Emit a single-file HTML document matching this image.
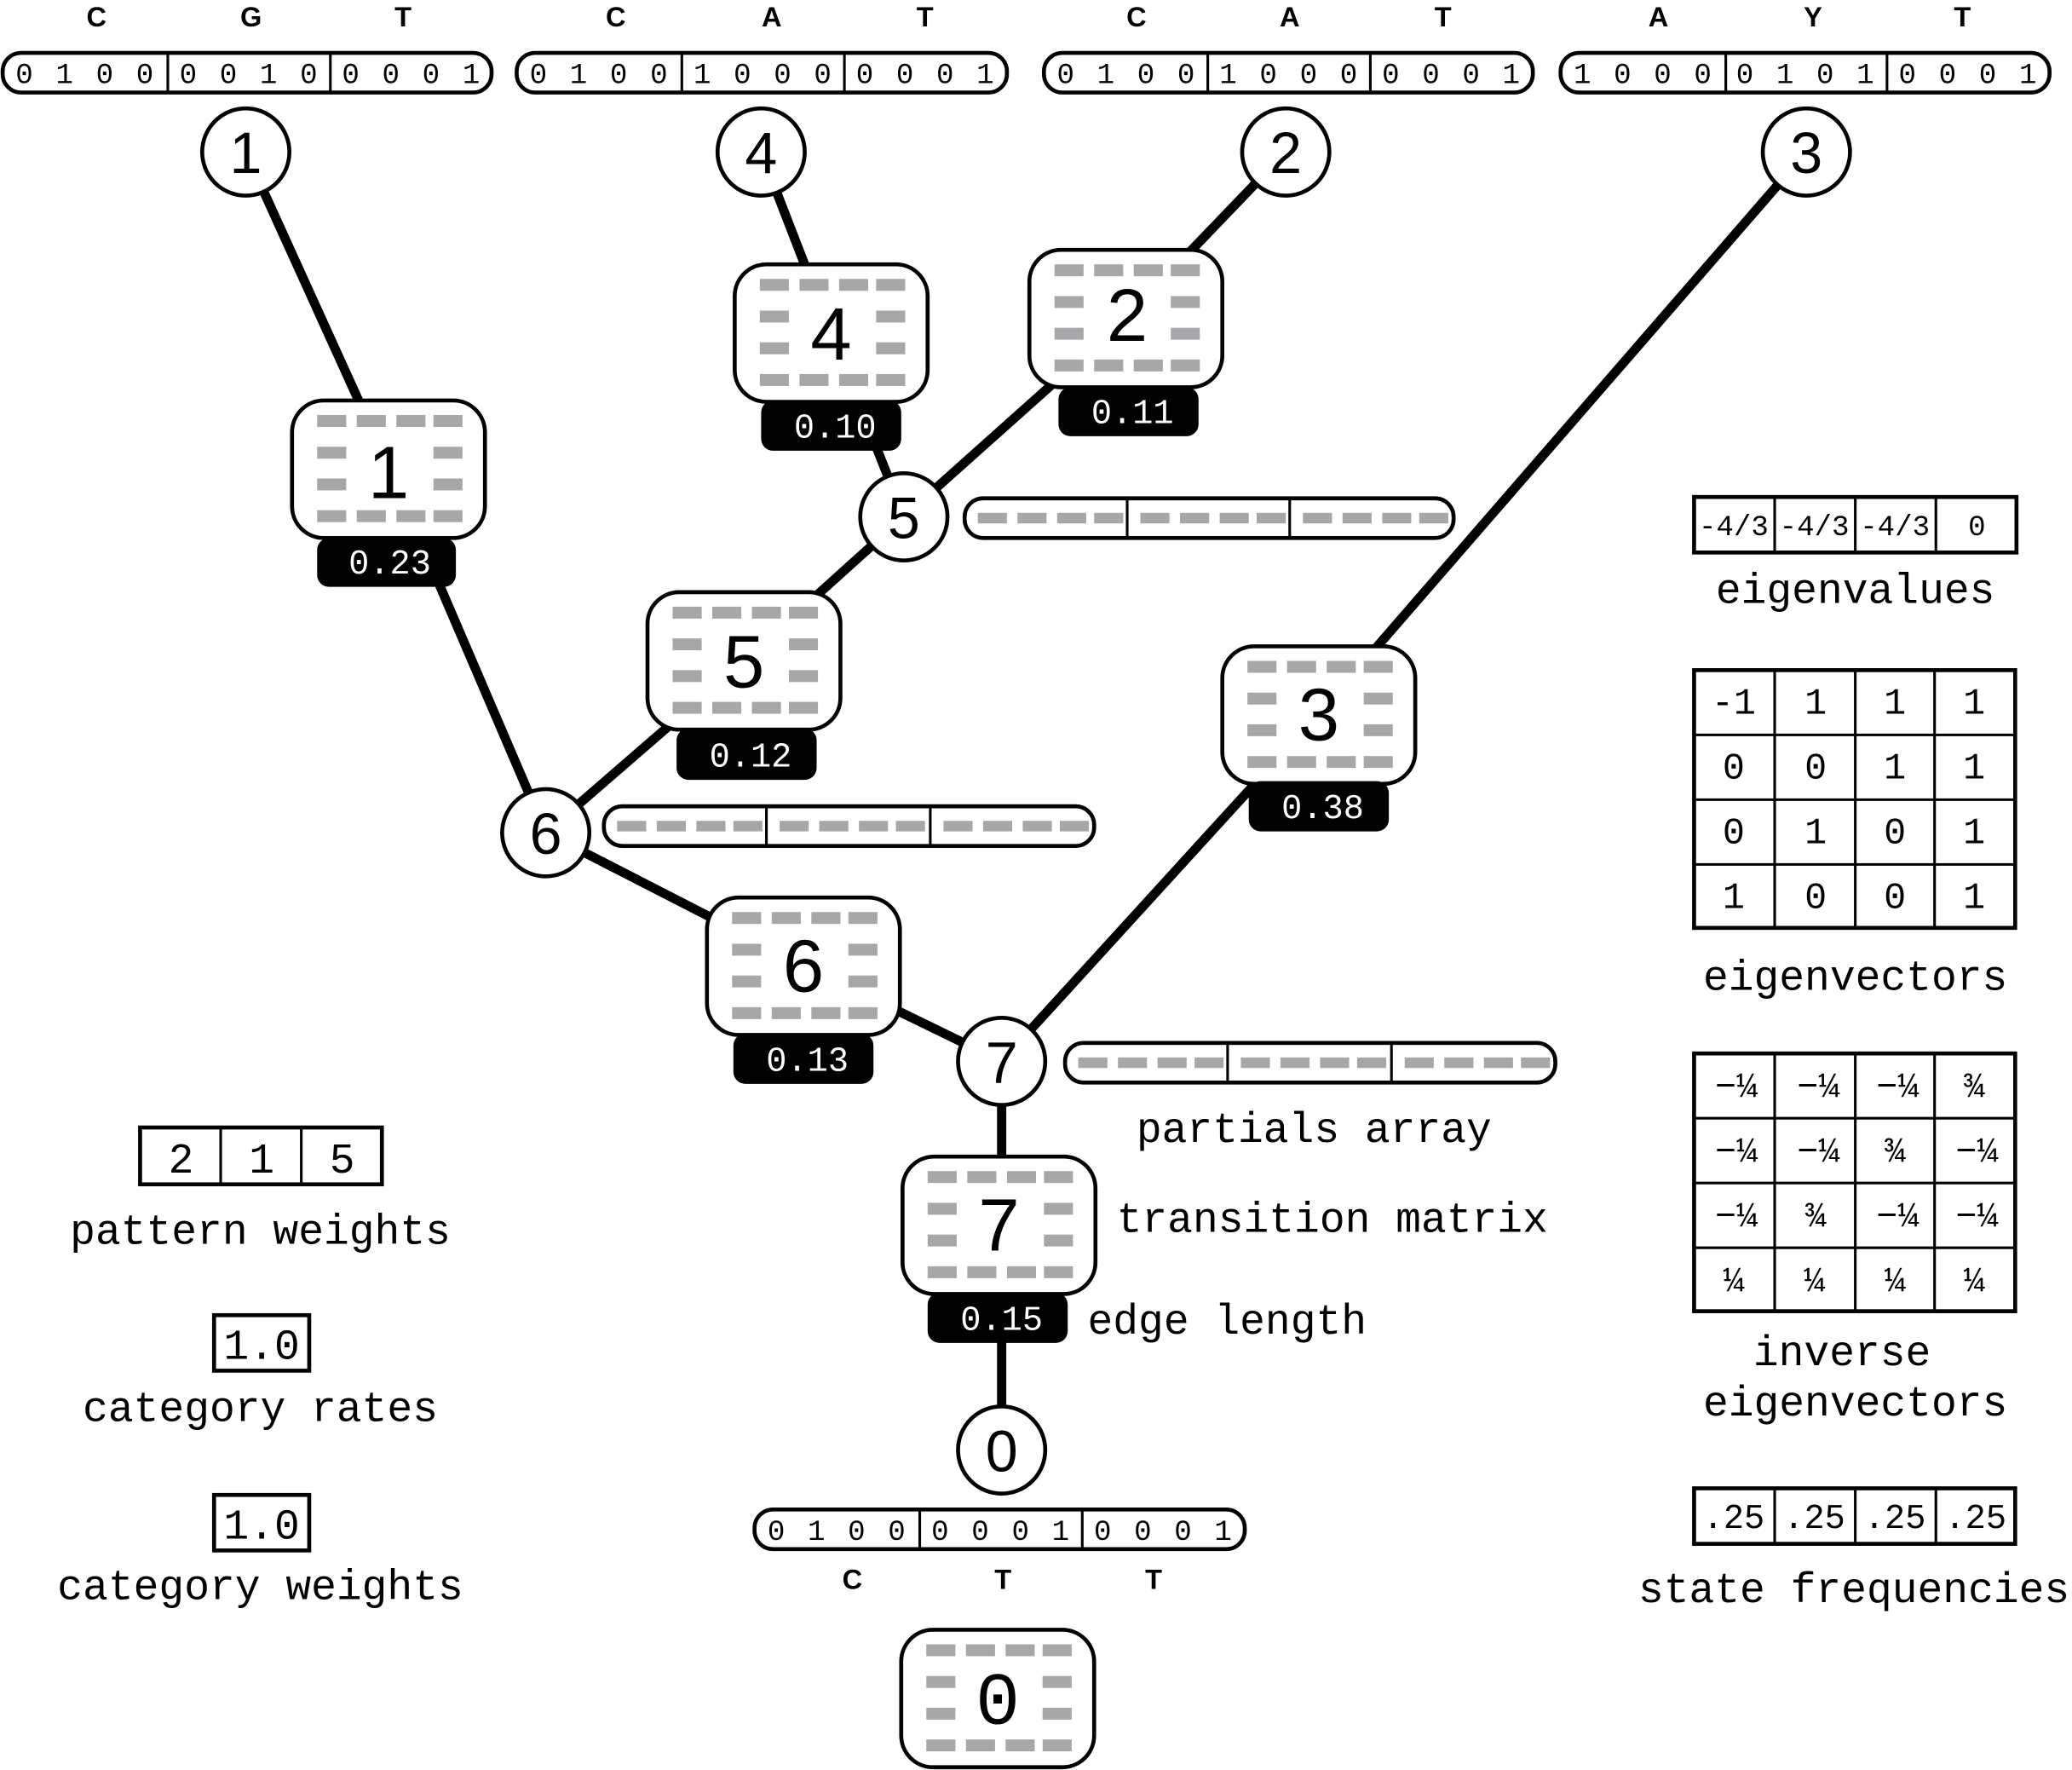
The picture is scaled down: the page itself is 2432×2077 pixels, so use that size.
<!DOCTYPE html>
<html><head><meta charset="utf-8"><style>
html,body{margin:0;padding:0;background:#fff;}
svg{display:block;}
.m{font-family:"Liberation Mono","DejaVu Sans Mono",monospace;}
.s{font-family:"Liberation Sans","DejaVu Sans",sans-serif;}
</style></head><body>
<svg width="2432" height="2077" viewBox="0 0 1568 1339.1" preserveAspectRatio="none" xmlns="http://www.w3.org/2000/svg">
<defs>
<g id="box">
<rect x="0" y="0" width="146" height="104" rx="24" fill="#fff" stroke="#000" stroke-width="3"/>
<g fill="#a7a7a9">
<rect x="19" y="11" width="22" height="9"/><rect x="49" y="11" width="22" height="9"/><rect x="79" y="11" width="22" height="9"/><rect x="107" y="11" width="22" height="9"/>
<rect x="19" y="35" width="22" height="9"/><rect x="107" y="35" width="22" height="9"/>
<rect x="19" y="59" width="22" height="9"/><rect x="107" y="59" width="22" height="9"/>
<rect x="19" y="83" width="22" height="9"/><rect x="49" y="83" width="22" height="9"/><rect x="79" y="83" width="22" height="9"/><rect x="107" y="83" width="22" height="9"/>
</g>
</g>
<g id="pd" fill="#a7a7a9">
<rect x="10" y="11" width="22" height="8"/><rect x="40" y="11" width="22" height="8"/><rect x="70" y="11" width="22" height="8"/><rect x="98" y="11" width="22" height="8"/>
</g>
</defs>

<g stroke="#000" stroke-width="7" fill="none">
<line x1="186" y1="115" x2="295" y2="355"/><line x1="295" y1="355" x2="413" y2="630"/>
<line x1="576" y1="115" x2="629" y2="252"/><line x1="629" y1="252" x2="684" y2="391"/>
<line x1="973" y1="115" x2="852" y2="241"/><line x1="852" y1="241" x2="684" y2="391"/>
<line x1="684" y1="391" x2="563" y2="500"/><line x1="563" y1="500" x2="413" y2="630"/>
<line x1="413" y1="630" x2="608" y2="730"/><line x1="608" y1="730" x2="758" y2="803"/>
<line x1="1367" y1="115" x2="998" y2="540"/><line x1="998" y1="540" x2="758" y2="803"/>
<line x1="758" y1="803" x2="758" y2="1097"/>
</g>

<g stroke="#000" fill="#fff">
<rect x="2" y="40" width="370" height="30" rx="14" stroke-width="3"/>
<rect x="391" y="40" width="371" height="30" rx="14" stroke-width="3"/>
<rect x="790" y="40" width="370" height="30" rx="14" stroke-width="3"/>
<rect x="1181" y="40" width="370" height="30" rx="14" stroke-width="3"/>
<rect x="571" y="1142" width="371" height="30" rx="14" stroke-width="3"/>
</g>
<g stroke="#000" stroke-width="2">
<line x1="127" y1="40" x2="127" y2="70"/><line x1="250" y1="40" x2="250" y2="70"/>
<line x1="516" y1="40" x2="516" y2="70"/><line x1="639" y1="40" x2="639" y2="70"/>
<line x1="914" y1="40" x2="914" y2="70"/><line x1="1037" y1="40" x2="1037" y2="70"/>
<line x1="1306" y1="40" x2="1306" y2="70"/><line x1="1428" y1="40" x2="1428" y2="70"/>
<line x1="696" y1="1142" x2="696" y2="1172"/><line x1="819" y1="1142" x2="819" y2="1172"/>
</g>
<g class="m" font-size="22" text-anchor="middle">
<text x="65" y="63" letter-spacing="2">0 1 0 0</text><text x="189" y="63" letter-spacing="2">0 0 1 0</text><text x="312" y="63" letter-spacing="2">0 0 0 1</text>
<text x="454" y="63" letter-spacing="2">0 1 0 0</text><text x="578" y="63" letter-spacing="2">1 0 0 0</text><text x="701" y="63" letter-spacing="2">0 0 0 1</text>
<text x="853" y="63" letter-spacing="2">0 1 0 0</text><text x="976" y="63" letter-spacing="2">1 0 0 0</text><text x="1099" y="63" letter-spacing="2">0 0 0 1</text>
<text x="1244" y="63" letter-spacing="2">1 0 0 0</text><text x="1367" y="63" letter-spacing="2">0 1 0 1</text><text x="1490" y="63" letter-spacing="2">0 0 0 1</text>
<text x="634" y="1165" letter-spacing="2">0 1 0 0</text><text x="758" y="1165" letter-spacing="2">0 0 0 1</text><text x="881" y="1165" letter-spacing="2">0 0 0 1</text>
</g>
<g class="s" font-size="21" font-weight="600" text-anchor="middle">
<text x="73" y="20">C</text><text x="190" y="20">G</text><text x="305" y="20">T</text>
<text x="466" y="20">C</text><text x="584" y="20">A</text><text x="700" y="20">T</text>
<text x="860" y="20">C</text><text x="976" y="20">A</text><text x="1092" y="20">T</text>
<text x="1255" y="20">A</text><text x="1372" y="20">Y</text><text x="1485" y="20">T</text>
<text x="645" y="1202">C</text><text x="759" y="1202">T</text><text x="873" y="1202">T</text>
</g>

<g fill="#fff" stroke="#000" stroke-width="3">
<rect x="730" y="377" width="370" height="30" rx="14"/>
<rect x="457" y="610" width="371" height="30" rx="14"/>
<rect x="806" y="789" width="371" height="30" rx="14"/>
</g>
<g stroke="#000" stroke-width="2">
<line x1="853" y1="377" x2="853" y2="407"/><line x1="976" y1="377" x2="976" y2="407"/>
<line x1="580" y1="610" x2="580" y2="640"/><line x1="704" y1="610" x2="704" y2="640"/>
<line x1="929" y1="789" x2="929" y2="819"/><line x1="1053" y1="789" x2="1053" y2="819"/>
</g>
<use href="#pd" x="730" y="377"/><use href="#pd" x="853" y="377"/><use href="#pd" x="976" y="377"/>
<use href="#pd" x="457" y="610"/><use href="#pd" x="580" y="610"/><use href="#pd" x="704" y="610"/>
<use href="#pd" x="806" y="789"/><use href="#pd" x="929" y="789"/><use href="#pd" x="1053" y="789"/>

<use href="#box" x="221" y="303"/><use href="#box" x="556" y="200"/><use href="#box" x="779" y="189"/>
<use href="#box" x="490" y="448"/><use href="#box" x="925" y="489"/><use href="#box" x="535" y="679"/>
<use href="#box" x="683" y="875"/><use href="#box" x="682" y="1233"/>
<g class="s" font-size="56" text-anchor="middle">
<text x="294" y="377">1</text><text x="629" y="272">4</text><text x="853" y="258">2</text>
<text x="563" y="520">5</text><text x="998" y="560">3</text><text x="608" y="750">6</text>
<text x="756" y="946">7</text>
</g>
<text class="m" x="755" y="1304" font-size="56" text-anchor="middle">0</text>

<g fill="#000">
<rect x="240" y="407" width="105" height="37" rx="9"/>
<rect x="576" y="303" width="106" height="38" rx="9"/>
<rect x="801" y="293" width="106" height="37" rx="9"/>
<rect x="512" y="551" width="106" height="39" rx="9"/>
<rect x="945" y="591" width="106" height="38" rx="9"/>
<rect x="555" y="782" width="106" height="38" rx="9"/>
<rect x="702" y="978" width="106" height="38" rx="9"/>
</g>
<g class="m" font-size="26" fill="#fff" text-anchor="middle">
<text x="295" y="434">0.23</text><text x="632" y="331">0.10</text><text x="857" y="320">0.11</text>
<text x="568" y="580">0.12</text><text x="1001" y="619">0.38</text><text x="611" y="810">0.13</text>
<text x="758" y="1006">0.15</text>
</g>

<g fill="#fff" stroke="#000" stroke-width="3">
<circle cx="186" cy="115" r="33"/><circle cx="576" cy="115" r="33"/><circle cx="973" cy="115" r="33"/><circle cx="1367" cy="115" r="33"/>
<circle cx="684" cy="391" r="33"/><circle cx="413" cy="630" r="33"/><circle cx="758" cy="803" r="33"/><circle cx="758" cy="1097" r="33"/>
</g>
<g class="s" font-size="44" text-anchor="middle">
<text x="186" y="131">1</text><text x="576" y="131">4</text><text x="973" y="131">2</text><text x="1367" y="131">3</text>
<text x="684" y="407">5</text><text x="413" y="646">6</text><text x="758" y="819">7</text><text x="758" y="1113">0</text>
</g>

<g class="m" font-size="32" text-anchor="start">
<text x="860" y="864">partials array</text>
<text x="845" y="932">transition matrix</text>
<text x="823" y="1009">edge length</text>
</g>

<g fill="#fff" stroke="#000" stroke-width="3">
<rect x="106" y="853" width="183" height="43"/>
<rect x="162" y="995" width="72" height="42"/>
<rect x="162" y="1131" width="72" height="42"/>
</g>
<g stroke="#000" stroke-width="2"><line x1="167" y1="853" x2="167" y2="896"/><line x1="228" y1="853" x2="228" y2="896"/></g>
<g class="m" font-size="32" text-anchor="middle">
<text x="137" y="887">2</text><text x="198" y="887">1</text><text x="259" y="887">5</text>
<text x="198" y="1028">1.0</text><text x="198" y="1164">1.0</text>
<text x="197" y="941">pattern weights</text>
<text x="197" y="1075">category rates</text>
<text x="197" y="1210">category weights</text>
</g>

<g fill="#fff" stroke="#000" stroke-width="3">
<rect x="1282" y="376" width="244" height="42"/>
<rect x="1282" y="507" width="243" height="195"/>
<rect x="1282" y="797" width="243" height="195"/>
<rect x="1282" y="1126" width="243" height="42"/>
</g>
<g stroke="#000" stroke-width="2">
<line x1="1343" y1="376" x2="1343" y2="418"/><line x1="1404" y1="376" x2="1404" y2="418"/><line x1="1465" y1="376" x2="1465" y2="418"/>
<line x1="1343" y1="507" x2="1343" y2="702"/><line x1="1404" y1="507" x2="1404" y2="702"/><line x1="1464" y1="507" x2="1464" y2="702"/>
<line x1="1282" y1="556" x2="1525" y2="556"/><line x1="1282" y1="605" x2="1525" y2="605"/><line x1="1282" y1="654" x2="1525" y2="654"/>
<line x1="1343" y1="797" x2="1343" y2="992"/><line x1="1404" y1="797" x2="1404" y2="992"/><line x1="1464" y1="797" x2="1464" y2="992"/>
<line x1="1282" y1="846" x2="1525" y2="846"/><line x1="1282" y1="895" x2="1525" y2="895"/><line x1="1282" y1="944" x2="1525" y2="944"/>
<line x1="1343" y1="1126" x2="1343" y2="1168"/><line x1="1404" y1="1126" x2="1404" y2="1168"/><line x1="1465" y1="1126" x2="1465" y2="1168"/>
</g>
<g class="m" text-anchor="middle">
<g font-size="22"><text x="1312" y="405">-4/3</text><text x="1373" y="405">-4/3</text><text x="1434" y="405">-4/3</text><text x="1496" y="405">0</text></g>
<g font-size="28">
<text x="1312" y="540">-1</text><text x="1374" y="540">1</text><text x="1434" y="540">1</text><text x="1494" y="540">1</text>
<text x="1312" y="589">0</text><text x="1374" y="589">0</text><text x="1434" y="589">1</text><text x="1494" y="589">1</text>
<text x="1312" y="638">0</text><text x="1374" y="638">1</text><text x="1434" y="638">0</text><text x="1494" y="638">1</text>
<text x="1312" y="687">1</text><text x="1374" y="687">0</text><text x="1434" y="687">0</text><text x="1494" y="687">1</text>
</g>
<g font-size="27">
<text x="1314" y="830">−¼</text><text x="1376" y="830">−¼</text><text x="1436" y="830">−¼</text><text x="1494" y="830">¾</text>
<text x="1314" y="879">−¼</text><text x="1376" y="879">−¼</text><text x="1434" y="879">¾</text><text x="1496" y="879">−¼</text>
<text x="1314" y="928">−¼</text><text x="1374" y="928">¾</text><text x="1436" y="928">−¼</text><text x="1496" y="928">−¼</text>
<text x="1312" y="977">¼</text><text x="1373" y="977">¼</text><text x="1434" y="977">¼</text><text x="1494" y="977">¼</text>
</g>
<g font-size="26"><text x="1312" y="1156">.25</text><text x="1373" y="1156">.25</text><text x="1434" y="1156">.25</text><text x="1495" y="1156">.25</text></g>
<g font-size="32">
<text x="1404" y="456">eigenvalues</text>
<text x="1404" y="749">eigenvectors</text>
<text x="1394" y="1033">inverse</text>
<text x="1404" y="1071">eigenvectors</text>
<text x="1403" y="1212">state frequencies</text>
</g>
</g>
</svg>
</body></html>
